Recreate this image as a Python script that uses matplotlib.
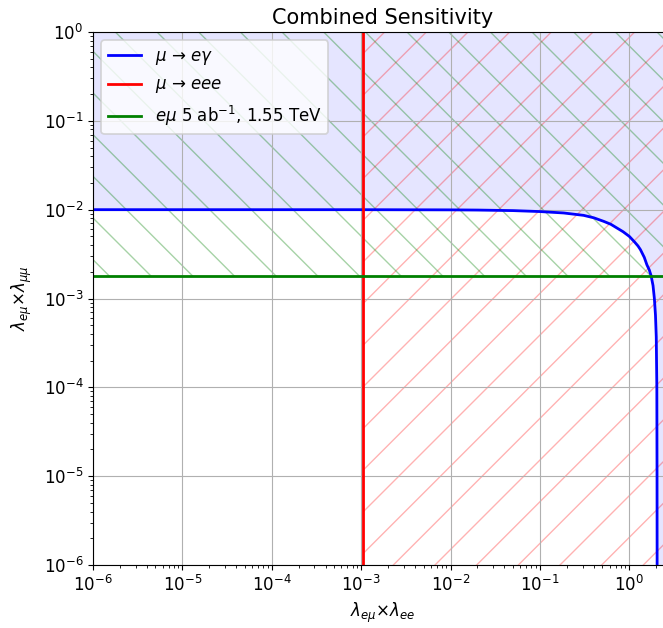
import matplotlib
matplotlib.use("Agg")
import numpy as np
import matplotlib.pyplot as plt

# ---------------- data ----------------
title = "Combined Sensitivity"
xlabel = r"$\lambda_{e\mu}$×$\lambda_{ee}$"
ylabel = r"$\lambda_{e\mu}$×$\lambda_{\mu\mu}$"
label_meg = r"$\mu$ → $e\gamma$"
label_meee = r"$\mu$ → $eee$"
label_emu = r"$e\mu$ 5 ab$^{-1}$, 1.55 TeV"

meg_x = [1e-6, 1e-3, 1e-2, 0.02, 0.05, 0.1, 0.184, 0.308, 0.4, 0.516, 0.62,
         0.726, 0.85, 1.0, 1.15, 1.25, 1.33, 1.47, 1.57, 1.67, 1.75, 1.84,
         1.905, 1.96, 2.0, 2.03, 2.04, 2.045]
meg_y = [1e-2, 9.995e-3, 9.95e-3, 9.9e-3, 9.76e-3, 9.52e-3, 9.18e-3, 8.63e-3,
         8.1e-3, 7.39e-3, 6.85e-3, 6.22e-3, 5.65e-3, 5.0e-3, 4.3e-3, 3.9e-3,
         3.55e-3, 2.9e-3, 2.4e-3, 2.1e-3, 1.81e-3, 1.4e-3, 1.0e-3, 6.5e-4,
         3.7e-4, 1e-4, 1e-5, 1e-6]
meee_limit = 1.06e-3
emu_limit = 1.78e-3
x_range = [1e-6, 3.0]
y_range = [1e-6, 1.0]

# ---------------- style ----------------
DPI = 125
S = 100.0 / DPI  # scale so sizes look like a 100-dpi figure

plt.rcParams.update({
    "font.size": 12 * S,
    "axes.linewidth": 0.8 * S,
    "grid.linewidth": 0.8 * S,
    "xtick.major.size": 3.5 * S, "ytick.major.size": 3.5 * S,
    "xtick.minor.size": 2.0 * S, "ytick.minor.size": 2.0 * S,
    "xtick.major.width": 0.8 * S, "ytick.major.width": 0.8 * S,
    "xtick.minor.width": 0.6 * S, "ytick.minor.width": 0.6 * S,
    "xtick.major.pad": 3.5 * S, "ytick.major.pad": 3.5 * S,
    "hatch.linewidth": 1.0 * S,
    "legend.fontsize": 12 * S,
    "axes.titlesize": 15 * S,
    "axes.titlepad": 6 * S,
    "axes.labelpad": 4 * S,
})

fig = plt.figure(figsize=(663 / DPI, 628 / DPI), dpi=DPI)
ax = fig.add_axes([93 / 663, 63 / 628, (672 - 93) / 663, 533 / 628])
ax.set_xscale("log")
ax.set_yscale("log")

# blue excluded region (above / right of the mu->e gamma curve)
poly_x = list(meg_x) + [x_range[1], x_range[1], x_range[0]]
poly_y = list(meg_y) + [y_range[0], y_range[1], y_range[1]]
ax.fill(poly_x, poly_y, color="blue", alpha=0.1, linewidth=0)

# red hatched region (mu->eee)
ax.fill_betweenx(y_range, meee_limit, x_range[1], facecolor="none",
                 edgecolor="red", hatch="/", alpha=0.3, linewidth=0)
# green hatched region (e mu collider)
ax.fill_between(x_range, emu_limit, y_range[1], facecolor="none",
                edgecolor="green", hatch="\\", alpha=0.35, linewidth=0)

ax.plot(meg_x, meg_y, color="blue", lw=2 * S, label=label_meg)
ax.axvline(meee_limit, color="red", lw=2 * S, label=label_meee)
ax.axhline(emu_limit, color="green", lw=2 * S, label=label_emu)

ax.set_xlim(x_range)
ax.set_ylim(y_range)
ax.grid(True, which="major")
ax.set_title(title)
ax.set_xlabel(xlabel)
ax.set_ylabel(ylabel, labelpad=7 * S)
ax.legend(loc="upper left")

fig.savefig("out.png", dpi=DPI)
